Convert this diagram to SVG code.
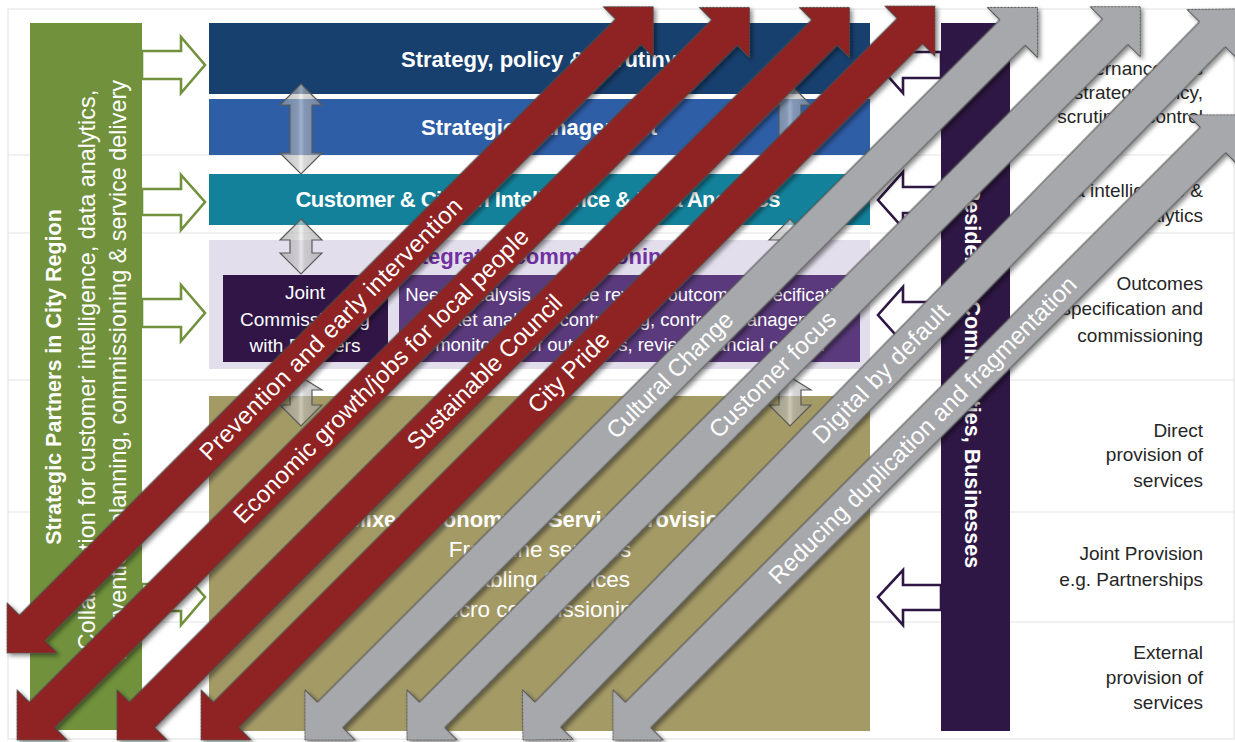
<svg xmlns="http://www.w3.org/2000/svg" width="1235" height="742" viewBox="0 0 1235 742">
<defs>
<style>
.f{font-family:"Liberation Sans",Arial,sans-serif}
.lbl{font-family:"Liberation Sans",Arial,sans-serif;font-size:19px;fill:#262626;text-anchor:end}
.bt{font-family:"Liberation Sans",Arial,sans-serif;font-weight:bold;fill:#fff;text-anchor:middle}
.wt{font-family:"Liberation Sans",Arial,sans-serif;fill:#fff;text-anchor:middle}
.grid{stroke:#E4E4E4;stroke-width:1.2;fill:none}
.ga{fill:#fff;stroke:#71913C;stroke-width:2.6}
.pa{fill:#fff;stroke:#2E1744;stroke-width:2.6}
.va{fill:url(#vg);fill-opacity:0.6;stroke:#5A5A5A;stroke-width:1.2}
.red{fill:#8F2020;stroke:#4A4A4A;stroke-width:1}
.gry{fill:#A7A8AC;stroke:#4A4A4A;stroke-width:1}
.at{font-family:"Liberation Sans",Arial,sans-serif;font-size:24px;fill:#fff;text-anchor:middle}
</style>
<linearGradient id="vg" x1="0" y1="0" x2="1" y2="0">
<stop offset="0" stop-color="#9A9A9A"/>
<stop offset="0.42" stop-color="#BDBDBD"/>
<stop offset="0.5" stop-color="#E8E8E8"/>
<stop offset="0.58" stop-color="#BDBDBD"/>
<stop offset="1" stop-color="#9A9A9A"/>
</linearGradient>
<filter id="sh" x="-5%" y="-30%" width="110%" height="160%">
<feDropShadow dx="0" dy="3.5" stdDeviation="2" flood-color="#000" flood-opacity="0.45"/>
</filter>
</defs>

<rect x="0" y="0" width="1235" height="742" fill="#fff"/>
<g id="grid">
<rect class="grid" x="8" y="9" width="1226" height="730"/>
<line class="grid" x1="8" y1="155" x2="1234" y2="155"/>
<line class="grid" x1="8" y1="233" x2="1234" y2="233"/>
<line class="grid" x1="8" y1="380" x2="1234" y2="380" stroke="#D6D6D6"/>
<line class="grid" x1="8" y1="512" x2="1234" y2="512"/>
<line class="grid" x1="8" y1="622" x2="1234" y2="622"/>
</g>

<g id="row-labels">
<text class="lbl" x="1203" y="75">Governance sets</text>
<text class="lbl" x="1203" y="99">strategy, policy,</text>
<text class="lbl" x="1203" y="123">scrutiny &amp; control</text>
<text class="lbl" x="1203" y="197">Data intelligence &amp;</text>
<text class="lbl" x="1203" y="222">analytics</text>
<text class="lbl" x="1203" y="290">Outcomes</text>
<text class="lbl" x="1203" y="315">specification and</text>
<text class="lbl" x="1203" y="342">commissioning</text>
<text class="lbl" x="1203" y="437">Direct</text>
<text class="lbl" x="1203" y="461">provision of</text>
<text class="lbl" x="1203" y="487">services</text>
<text class="lbl" x="1203" y="560">Joint Provision</text>
<text class="lbl" x="1203" y="586">e.g. Partnerships</text>
<text class="lbl" x="1203" y="659">External</text>
<text class="lbl" x="1203" y="684">provision of</text>
<text class="lbl" x="1203" y="709">services</text>
</g>

<g id="node-partners">
<rect x="30" y="23" width="112" height="707" fill="#71913C"/>
<text class="bt" font-size="21.5" transform="translate(61,377) rotate(-90)">Strategic Partners in City Region</text>
<text class="wt" font-size="23.4" transform="translate(95,370) rotate(-90)">Collaboration for customer intelligence, data analytics,</text>
<text class="wt" font-size="23.4" transform="translate(126,370) rotate(-90)">intervention, planning, commissioning &amp; service delivery</text>
</g>

<g id="node-residents">
<rect x="941" y="23" width="69" height="708" fill="#2E1744"/>
<text class="bt" font-size="21.5" transform="translate(965,377) rotate(90)">Residents, Communities, Businesses</text>
</g>

<g id="node-strategy">
<rect x="209" y="23" width="661" height="71" fill="#17406F"/>
<text class="bt" font-size="22" x="539" y="67">Strategy, policy &amp; scrutiny</text>
</g>
<g id="node-management">
<rect x="209" y="99" width="661" height="56" fill="#2E5EA6"/>
<text class="bt" font-size="22" x="539" y="135">Strategic management</text>
</g>
<g id="node-intelligence">
<rect x="209" y="174" width="661" height="51" fill="#13819A"/>
<text class="bt" font-size="22" x="538" y="207" textLength="485">Customer &amp; Citizen Intelligence &amp; Data Analytics</text>
</g>
<g id="node-commissioning">
<rect x="209" y="240" width="661" height="129" fill="#E3DEEC"/>
<text class="f" font-size="22" font-weight="bold" fill="#7030A0" text-anchor="middle" x="538" y="264">Integrated commissioning</text>
</g>
<g id="node-joint">
<rect x="223" y="275" width="165" height="87" fill="#301546"/>
<text class="wt" font-size="19" x="305" y="299">Joint</text>
<text class="wt" font-size="19" x="305" y="326">Commissioning</text>
<text class="wt" font-size="19" x="305" y="352">with Partners</text>
</g>
<g id="node-needs">
<rect x="399" y="275" width="461" height="87" fill="#5A3A7C"/>
<text class="wt" font-size="18.5" x="630" y="301">Needs analysis, service review, outcomes specification</text>
<text class="wt" font-size="18.5" x="630" y="326">market analysis, contracting, contract management</text>
<text class="wt" font-size="18.5" x="630" y="351">monitoring of outcomes, review financial control</text>
</g>
<g id="node-mixed">
<rect x="209" y="396" width="661" height="335" fill="#A39A66"/>
<text class="bt" font-size="22" x="540" y="527">Mixed Economy of Service Provision</text>
<text class="wt" font-size="22.5" x="540" y="557">Front line services</text>
<text class="wt" font-size="22.5" x="540" y="587">Enabling Services</text>
<text class="wt" font-size="22.5" x="540" y="617">Micro commissioning</text>
</g>

<g id="connectors">
<polygon class="va" points="301,84 322,105 312,105 312,153 322,153 301,174 280,153 290,153 290,105 280,105"/>
<polygon class="va" points="301,219 322,240 312,240 312,253 322,253 301,274 280,253 290,253 290,240 280,240"/>
<polygon class="va" points="301,377 322,390 312,390 312,405 322,405 301,426 280,405 290,405 290,390 280,390"/>
<polygon class="va" points="790,84 811,105 801,105 801,153 811,153 790,174 769,153 779,153 779,105 769,105"/>
<polygon class="va" points="790,219 811,240 801,240 801,253 811,253 790,274 769,253 779,253 779,240 769,240"/>
<polygon class="va" points="790,377 811,390 801,390 801,405 811,405 790,426 769,405 779,405 779,390 769,390"/>
<polygon class="ga" points="142,51 181,51 181,37 205,65 181,93 181,79 142,79"/>
<polygon class="ga" points="142,189 181,189 181,175 205,202 181,230 181,215 142,215"/>
<polygon class="ga" points="142,299 181,299 181,285 205,313 181,341 181,327 142,327"/>
<polygon class="ga" points="142,584 181,584 181,570 205,597 181,625 181,611 142,611"/>
<polygon class="pa" points="941,52 903,52 903,37 878,65 903,93 903,78 941,78"/>
<polygon class="pa" points="941,187 903,187 903,172 878,200 903,228 903,213 941,213"/>
<polygon class="pa" points="941,302 903,302 903,287 878,315 903,343 903,328 941,328"/>
<polygon class="pa" points="941,585 903,585 903,570 878,597 903,625 903,610 941,610"/>
</g>

<g id="theme-arrows">
<g id="arrow-prevention" transform="translate(7,653) rotate(-45)">
<polygon class="red" filter="url(#sh)" points="0,0 35.4,-35.4 35.4,-18 878.6,-18 878.6,-35.4 914,0 878.6,35.4 878.6,18 35.4,18 35.4,35.4"/>
<text class="at" x="458" y="8" textLength="360">Prevention and early intervention</text>
</g>
<g id="arrow-economic" transform="translate(17,740) rotate(-45)">
<polygon class="red" filter="url(#sh)" points="0,0 35.4,-35.4 35.4,-18 1000.6,-18 1000.6,-35.4 1036,0 1000.6,35.4 1000.6,18 35.4,18 35.4,35.4"/>
<text class="at" x="515" y="8" textLength="406">Economic growth/jobs for local people</text>
</g>
<g id="arrow-sustainable" transform="translate(117,740) rotate(-45)">
<polygon class="red" filter="url(#sh)" points="0,0 35.4,-35.4 35.4,-18 1000.6,-18 1000.6,-35.4 1036,0 1000.6,35.4 1000.6,18 35.4,18 35.4,35.4"/>
<text class="at" x="520" y="8" textLength="208">Sustainable Council</text>
</g>
<g id="arrow-pride" transform="translate(201,740) rotate(-45)">
<polygon class="red" filter="url(#sh)" points="0,0 35.4,-35.4 35.4,-18 1002.6,-18 1002.6,-35.4 1038,0 1002.6,35.4 1002.6,18 35.4,18 35.4,35.4"/>
<text class="at" x="520" y="8">City Pride</text>
</g>
<g id="arrow-culture" transform="translate(305,740) rotate(-45)">
<polygon class="gry" filter="url(#sh)" points="0,0 35.4,-35.4 35.4,-18 1000.6,-18 1000.6,-35.4 1036,0 1000.6,35.4 1000.6,18 35.4,18 35.4,35.4"/>
<text class="at" x="516" y="8" textLength="168">Cultural Change</text>
</g>
<g id="arrow-customer" transform="translate(407,740) rotate(-45)">
<polygon class="gry" filter="url(#sh)" points="0,0 35.4,-35.4 35.4,-18 1001.6,-18 1001.6,-35.4 1037,0 1001.6,35.4 1001.6,18 35.4,18 35.4,35.4"/>
<text class="at" x="517" y="8">Customer focus</text>
</g>
<g id="arrow-digital" transform="translate(523,740) rotate(-45.67)">
<polygon class="gry" filter="url(#sh)" points="0,0 35.4,-35.4 35.4,-18 986.6,-18 986.6,-35.4 1022,0 986.6,35.4 986.6,18 35.4,18 35.4,35.4"/>
<text class="at" x="512" y="8" textLength="184">Digital by default</text>
</g>
<g id="arrow-duplication" transform="translate(613,740) rotate(-45)">
<polygon class="gry" filter="url(#sh)" points="0,0 35.4,-35.4 35.4,-18 848.6,-18 848.6,-35.4 884,0 848.6,35.4 848.6,18 35.4,18 35.4,35.4"/>
<text class="at" x="438" y="8" textLength="424">Reducing duplication and fragmentation</text>
</g>
</g>
</svg>
